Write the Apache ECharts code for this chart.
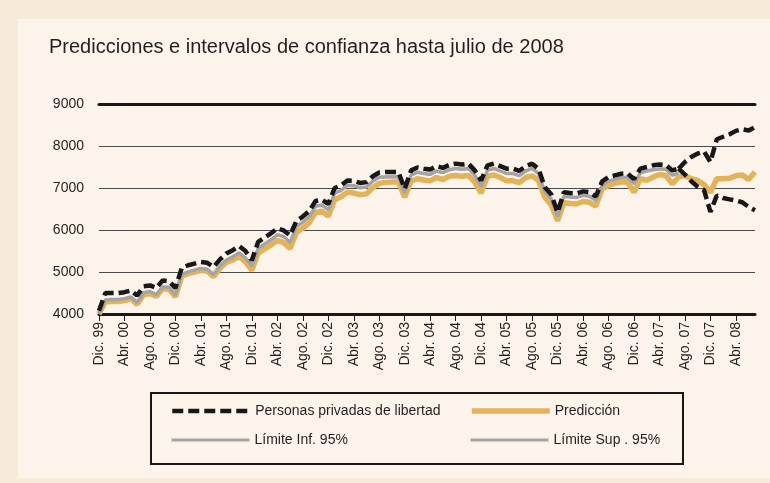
<!DOCTYPE html>
<html>
<head>
<meta charset="utf-8">
<title>Predicciones e intervalos de confianza hasta julio de 2008</title>
<script src="https://cdn.jsdelivr.net/npm/echarts@6/dist/echarts.min.js"></script>
<style>
	html, body { margin: 0; padding: 0; background: #f7ead8; }
	#marco { position: absolute; left: 18px; top: 19px; width: 752px; height: 459px; background: #fcf4ea; }
	#chart { position: absolute; left: 0; top: 0; width: 770px; height: 483px; }
</style>
</head>
<body>
<div id="marco"></div>
<div id="chart"></div>
<script>
var fuente = "'Liberation Sans', Arial, sans-serif";

// meses de Dic. 99 a Jul. 08
var meses = ['Ene.', 'Feb.', 'Mar.', 'Abr.', 'May.', 'Jun.', 'Jul.', 'Ago.', 'Sep.', 'Oct.', 'Nov.', 'Dic.'];
var categorias = ['Dic. 99'];
for (var a = 0; a <= 8; a++) {
	for (var m = 0; m < 12; m++) {
		if (a == 8 && m > 6) break;
		categorias.push(meses[m] + ' 0' + a);
	}
}

// observado, Dic. 99 - Jul. 07
var personas = [4080, 4500, 4500, 4500, 4520, 4560, 4440, 4660, 4680, 4620, 4800, 4780,
	4620, 5100, 5160, 5200, 5240, 5220, 5120, 5300, 5440, 5520, 5620, 5500,
	5280, 5720, 5820, 5920, 6040, 5990, 5870, 6220, 6320, 6450, 6690, 6720,
	6620, 7000, 7060, 7180, 7170, 7120, 7140, 7280, 7370, 7380, 7380, 7380,
	6980, 7420, 7490, 7460, 7440, 7520, 7480, 7550, 7580, 7560, 7580, 7420,
	7180, 7540, 7580, 7520, 7460, 7460, 7410, 7520, 7580, 7460, 7020, 6850,
	6420, 6900, 6880, 6870, 6920, 6900, 6800, 7160, 7260, 7300, 7340, 7350,
	7210, 7460, 7500, 7540, 7560, 7550, 7420, 7460];

// limites (linea gris) en el periodo observado
var limiteInf = [4000, 4330, 4340, 4340, 4360, 4400, 4270, 4500, 4530, 4460, 4640, 4630,
	4450, 4940, 5000, 5040, 5080, 5060, 4940, 5140, 5280, 5360, 5450, 5330,
	5140, 5560, 5660, 5760, 5880, 5840, 5700, 6080, 6180, 6310, 6560, 6590,
	6480, 6870, 6940, 7060, 7050, 7000, 7020, 7160, 7250, 7260, 7260, 7260,
	6880, 7300, 7370, 7340, 7320, 7400, 7360, 7430, 7460, 7440, 7460, 7300,
	7030, 7420, 7460, 7400, 7340, 7340, 7290, 7400, 7460, 7340, 6910, 6740,
	6320, 6800, 6780, 6770, 6820, 6800, 6700, 7060, 7160, 7200, 7240, 7250,
	7100, 7350, 7400, 7430, 7450, 7440, 7300, 7350];
var limiteSup = [4000, 4340, 4350, 4350, 4370, 4410, 4280, 4510, 4540, 4470, 4650, 4640,
	4460, 4950, 5010, 5050, 5090, 5070, 4950, 5150, 5290, 5370, 5460, 5340,
	5150, 5570, 5670, 5770, 5890, 5850, 5710, 6090, 6190, 6320, 6570, 6600,
	6490, 6880, 6950, 7070, 7060, 7010, 7030, 7170, 7260, 7270, 7270, 7270,
	6890, 7310, 7380, 7350, 7330, 7410, 7370, 7440, 7470, 7450, 7470, 7310,
	7040, 7430, 7470, 7410, 7350, 7350, 7300, 7410, 7470, 7350, 6920, 6750,
	6330, 6810, 6790, 6780, 6830, 6810, 6710, 7070, 7170, 7210, 7250, 7260,
	7110, 7360, 7410, 7440, 7460, 7450, 7310, 7360];

// prediccion, Dic. 99 - Jul. 08
var prediccion = [4000, 4290, 4300, 4300, 4320, 4360, 4230, 4460, 4490, 4420, 4600, 4590,
	4410, 4900, 4960, 5000, 5040, 5020, 4890, 5090, 5230, 5290, 5370, 5240,
	5040, 5450, 5550, 5640, 5750, 5700, 5560, 5940, 6040, 6170, 6420, 6450,
	6330, 6720, 6790, 6900, 6880, 6840, 6860, 7010, 7110, 7130, 7140, 7140,
	6780, 7160, 7220, 7190, 7170, 7250, 7200, 7280, 7300, 7280, 7300, 7140,
	6880, 7280, 7310, 7250, 7170, 7170, 7130, 7250, 7290, 7180, 6780, 6600,
	6220, 6650, 6630, 6620, 6680, 6660, 6570, 6980, 7060, 7110, 7140, 7140,
	6900, 7220, 7180, 7260, 7320, 7300, 7100, 7260,
	7290, 7220, 7180, 7080, 6900, 7220, 7220, 7230, 7290, 7310, 7200, 7380];

// intervalo de confianza proyectado, desde Jul. 07
var inicioProy = 91;
var supProy = [7460, 7620, 7740, 7820, 7870, 7620, 8160, 8220, 8280, 8360, 8400, 8370, 8450];
var infProy = [7460, 7320, 7160, 7030, 6950, 6430, 6820, 6760, 6730, 6700, 6660, 6550, 6470];

function desde(inicio, valores) {
	return valores.map(function (v, k) { return [inicio + k, v]; });
}

var negro = '#1a1718';
var lineaNegra = { color: negro, width: 4.5, type: [11, 5], cap: 'butt' };
var lineaGris = { color: '#a4a4a4', width: 3 };
var lineaAmarilla = { color: '#e3b35c', width: 5.5 };

var leyendaBase = {
	itemWidth: 78,
	itemHeight: 14,
	itemGap: 0,
	padding: 0,
	selectedMode: false,
	itemStyle: { opacity: 0 },
	lineStyle: { width: 'inherit' },
	textStyle: { fontSize: 14, color: '#231f20', fontFamily: fuente }
};

function leyenda(nombre, left, top) {
	return Object.assign({}, leyendaBase, { data: [nombre], left: left, top: top });
}

var chart = echarts.init(document.getElementById('chart'));

chart.setOption({
	backgroundColor: 'transparent',
	animation: false,
	title: {
		text: 'Predicciones e intervalos de confianza hasta julio de 2008',
		left: 49,
		top: 37,
		padding: 0,
		textStyle: { fontSize: 20, fontWeight: 'normal', color: '#231f20', fontFamily: fuente }
	},
	grid: { left: 99, right: 15, top: 104, bottom: 169 },
	legend: [
		leyenda('Personas privadas de libertad', 170, 404),
		leyenda('Predicción', 469, 404),
		leyenda('Límite Inf. 95%', 170, 433),
		leyenda('Límite Sup . 95%', 469, 433)
	],
	graphic: [{
		type: 'rect',
		shape: { x: 151, y: 393, width: 532, height: 71 },
		style: { fill: 'none', stroke: negro, lineWidth: 2 }
	}],
	xAxis: [{
		type: 'category',
		data: categorias,
		boundaryGap: false,
		axisLine: { lineStyle: { color: negro, width: 3 } },
		axisTick: { interval: 3, length: 7, lineStyle: { color: negro, width: 1 } },
		axisLabel: { interval: 3, rotate: 90, margin: 8, fontSize: 14, color: '#231f20', fontFamily: fuente },
		splitLine: { show: false }
	}, {
		// linea superior (9000)
		type: 'category',
		data: categorias,
		boundaryGap: false,
		position: 'top',
		axisLine: { lineStyle: { color: negro, width: 3 } },
		axisTick: { show: false },
		axisLabel: { show: false }
	}],
	yAxis: {
		type: 'value',
		min: 4000,
		max: 9000,
		interval: 1000,
		axisLine: { show: false },
		axisTick: { show: false },
		axisLabel: {
			margin: 15, fontSize: 14, color: '#231f20', fontFamily: fuente,
			formatter: function (v) { return String(v); }
		},
		splitLine: { lineStyle: { color: '#4a4a4a', width: 1 } }
	},
	series: [{
		name: 'Predicción',
		type: 'line',
		data: prediccion,
		symbol: 'none',
		z: 2,
		lineStyle: lineaAmarilla,
		itemStyle: { color: lineaAmarilla.color }
	}, {
		name: 'Límite Inf. 95%',
		type: 'line',
		data: limiteInf,
		symbol: 'none',
		z: 3,
		lineStyle: lineaGris,
		itemStyle: { color: lineaGris.color }
	}, {
		name: 'Límite Sup . 95%',
		type: 'line',
		data: limiteSup,
		symbol: 'none',
		z: 3,
		lineStyle: lineaGris,
		itemStyle: { color: lineaGris.color }
	}, {
		name: 'Personas privadas de libertad',
		type: 'line',
		data: personas,
		symbol: 'none',
		z: 4,
		lineStyle: lineaNegra,
		itemStyle: { color: negro }
	}, {
		name: 'Límite Sup. proyectado',
		type: 'line',
		data: desde(inicioProy, supProy),
		symbol: 'none',
		z: 4,
		lineStyle: lineaNegra,
		itemStyle: { color: negro }
	}, {
		name: 'Límite Inf. proyectado',
		type: 'line',
		data: desde(inicioProy, infProy),
		symbol: 'none',
		z: 4,
		lineStyle: lineaNegra,
		itemStyle: { color: negro }
	}]
});
</script>
</body>
</html>
